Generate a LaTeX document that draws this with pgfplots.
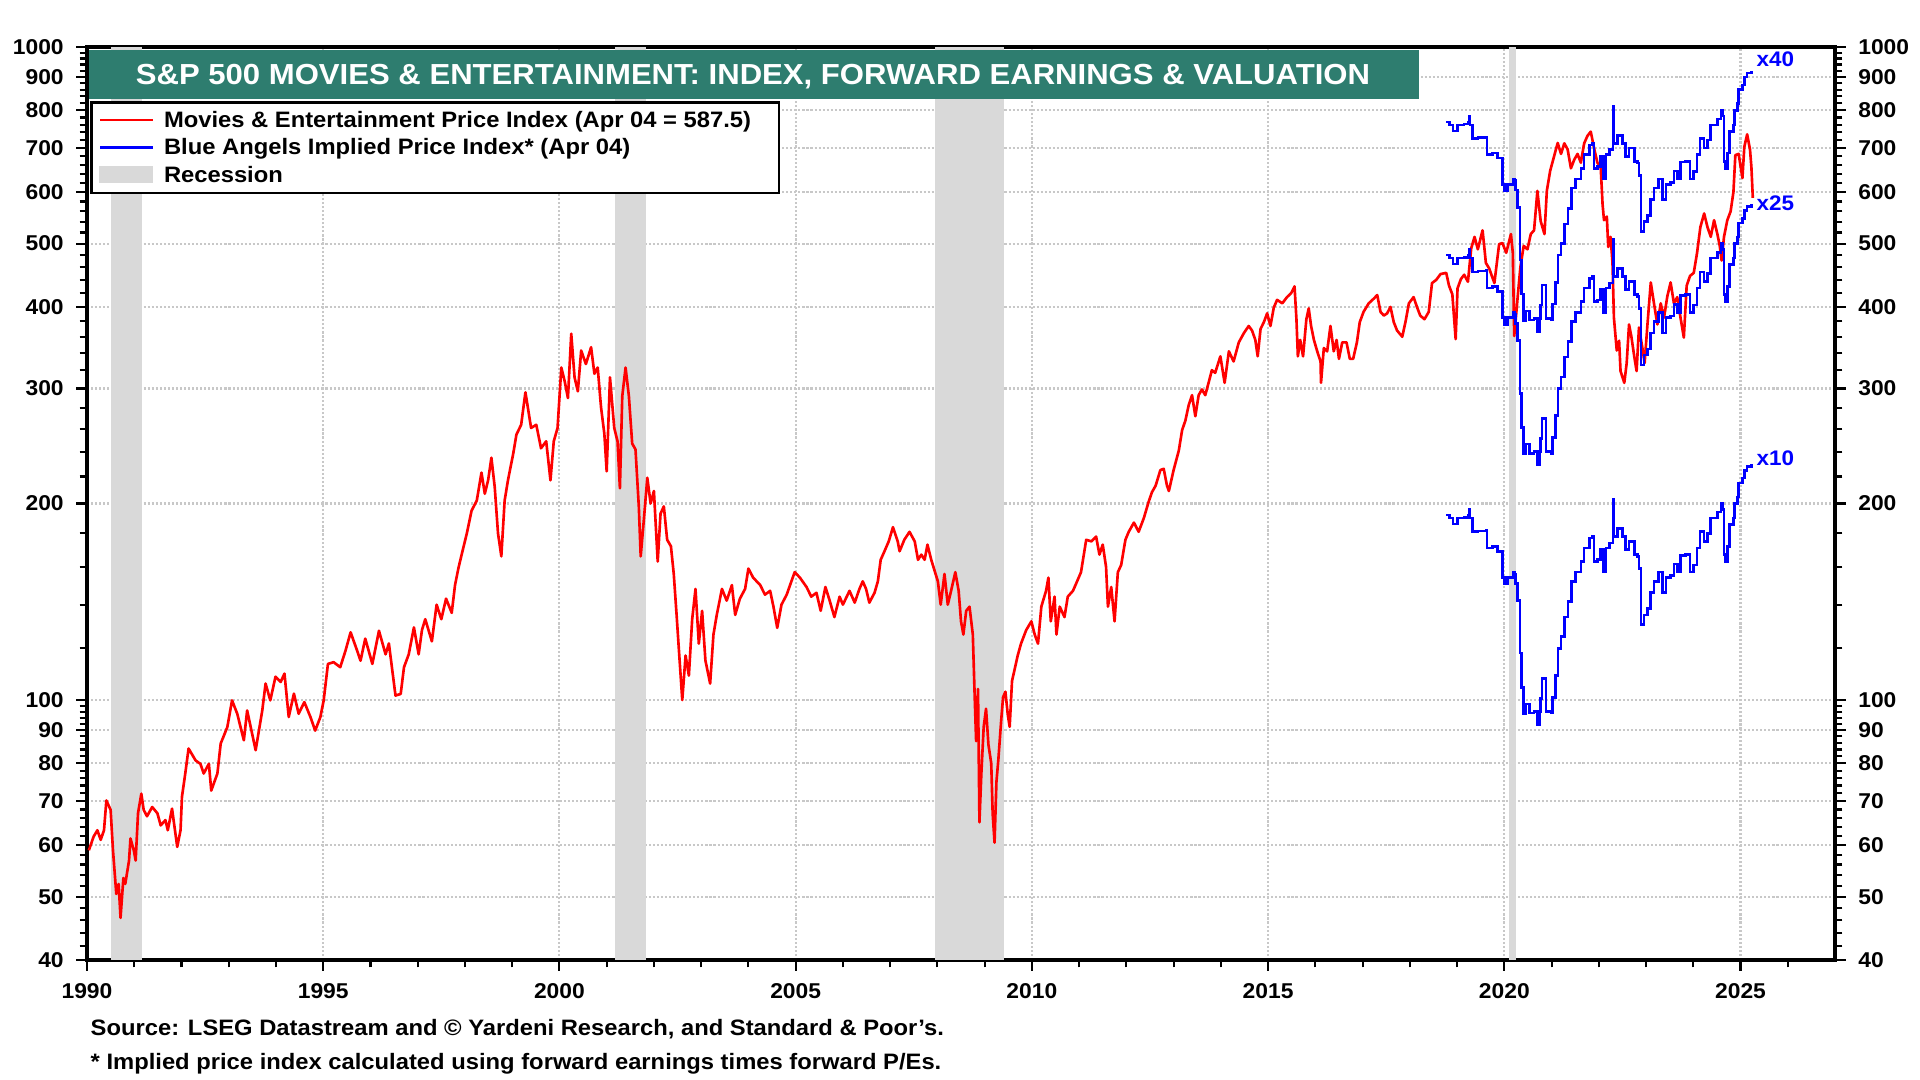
\documentclass[border=0pt]{standalone}
\usepackage{pgfplots}
\pgfplotsset{compat=1.18}
\usepackage{pgfplotstable}
\usepackage{graphicx}
\usepackage{fontspec}
\setmainfont{Liberation Sans}
\definecolor{teal1}{RGB}{46,125,111}
\definecolor{recgray}{RGB}{217,217,217}
\definecolor{gridgray}{RGB}{200,200,200}
\newcommand{\sx}[1]{\scalebox{1.065}[1]{#1}}

\pgfplotstableread{
yr v
1990.04 58.9
1990.14 61.8
1990.22 63.2
1990.29 61.1
1990.36 63.2
1990.41 70.2
1990.50 67.9
1990.55 58.9
1990.62 50.5
1990.67 52.3
1990.71 46.4
1990.77 53.4
1990.81 52.3
1990.89 56.8
1990.92 61.4
1990.99 58.9
1991.03 56.8
1991.08 67.1
1991.15 71.9
1991.20 67.9
1991.27 66.4
1991.38 68.6
1991.49 67.1
1991.56 64.3
1991.66 65.5
1991.71 63.2
1991.80 68.2
1991.91 59.6
1991.98 63.2
1992.01 71.1
1992.08 77.2
1992.15 84.3
1992.30 80.8
1992.40 79.9
1992.47 77.2
1992.58 79.9
1992.63 72.7
1992.76 77.2
1992.83 85.8
1992.97 90.9
1993.07 99.9
1993.18 95.3
1993.32 86.8
1993.39 96.4
1993.57 83.8
1993.71 96.4
1993.78 106.0
1993.88 99.9
1993.99 108.6
1994.10 106.6
1994.18 109.8
1994.27 94.2
1994.38 102.3
1994.48 95.3
1994.60 99.3
1994.73 94.2
1994.83 89.8
1994.94 94.2
1995.01 99.9
1995.10 113.6
1995.22 114.3
1995.36 112.3
1995.47 118.9
1995.58 127.0
1995.72 118.9
1995.79 114.9
1995.89 124.2
1996.04 113.6
1996.18 127.7
1996.32 117.5
1996.39 122.1
1996.53 101.6
1996.64 102.2
1996.71 112.3
1996.81 117.5
1996.92 129.2
1997.02 117.5
1997.09 128
1997.16 133
1997.30 123
1997.40 140
1997.50 133
1997.60 143
1997.72 136
1997.79 150
1997.86 159
1997.93 167
1998.04 180
1998.14 195
1998.25 202
1998.35 223
1998.42 207
1998.49 217
1998.56 235
1998.63 212
1998.70 180
1998.77 166
1998.84 202
1998.91 217
1999.02 238
1999.09 255
1999.19 264
1999.28 296
1999.33 281
1999.40 261
1999.51 264
1999.61 243
1999.72 249
1999.81 217
1999.88 249
1999.96 261
2000.04 323
2000.11 308
2000.18 290
2000.25 364
2000.32 312
2000.39 297
2000.46 343
2000.56 327
2000.67 347
2000.74 316
2000.81 323
2000.88 281
2000.95 256
2001.00 224
2001.07 312
2001.16 261
2001.23 249
2001.28 211
2001.33 292
2001.40 323
2001.47 292
2001.54 247
2001.61 242
2001.68 198
2001.72 166
2001.79 190
2001.86 219
2001.93 200
2002.00 209
2002.08 163
2002.14 193
2002.21 198
2002.28 176
2002.36 172
2002.42 156
2002.48 135
2002.53 119
2002.60 100
2002.67 117
2002.74 109
2002.81 133
2002.88 148
2002.95 122
2003.02 137
2003.09 115
2003.19 106
2003.26 126
2003.33 135
2003.44 148
2003.54 142
2003.65 150
2003.72 135
2003.82 143
2003.93 148
2004.00 159
2004.10 154
2004.25 150
2004.35 145
2004.46 147
2004.53 139
2004.61 129
2004.70 140
2004.81 145
2004.91 152
2004.98 157
2005.09 154
2005.23 149
2005.33 144
2005.44 146
2005.53 137
2005.63 149
2005.72 142
2005.82 134
2005.93 144
2006.00 140
2006.14 147
2006.25 141
2006.35 148
2006.42 152
2006.49 148
2006.56 141
2006.67 146
2006.74 152
2006.80 164
2006.88 169
2006.97 175
2007.06 184
2007.16 175
2007.20 169
2007.30 176
2007.41 181
2007.52 175
2007.59 164
2007.66 167
2007.73 164
2007.79 173
2007.87 164
2007.95 157
2008.01 152
2008.07 140
2008.15 156
2008.22 140
2008.29 147
2008.38 157
2008.45 147
2008.50 132
2008.55 126
2008.61 137
2008.68 139
2008.75 126
2008.79 101
2008.82 86.5
2008.86 104
2008.89 65
2008.93 77
2008.98 91
2009.03 97
2009.08 85.5
2009.14 80
2009.17 67
2009.21 60.5
2009.25 75
2009.29 81
2009.35 93
2009.39 101
2009.44 103
2009.49 95
2009.53 91
2009.58 107
2009.63 111
2009.70 117
2009.77 122
2009.88 128
2009.99 132
2010.06 126
2010.13 122
2010.20 139
2010.30 147
2010.35 154
2010.40 132
2010.48 144
2010.52 126
2010.59 139
2010.69 134
2010.76 144
2010.87 147
2010.94 151
2011.04 157
2011.15 176
2011.26 175
2011.36 178
2011.43 167
2011.50 173
2011.57 160
2011.61 139
2011.68 149
2011.75 132
2011.82 157
2011.89 161
2011.98 176
2012.05 181
2012.16 187
2012.26 181
2012.37 190
2012.47 201
2012.54 208
2012.62 213
2012.72 225
2012.79 226
2012.86 213
2012.90 209
2013.00 225
2013.11 241
2013.18 259
2013.25 268
2013.32 283
2013.39 293
2013.46 272
2013.53 293
2013.60 299
2013.67 293
2013.74 306
2013.81 320
2013.88 317
2013.99 336
2014.08 306
2014.17 342
2014.27 330
2014.38 353
2014.49 365
2014.59 374
2014.66 368
2014.73 356
2014.78 336
2014.84 370
2014.91 379
2014.98 391
2015.05 374
2015.12 399
2015.19 410
2015.30 405
2015.40 414
2015.49 420
2015.56 430
2015.60 383
2015.63 336
2015.68 356
2015.74 336
2015.81 383
2015.86 398
2015.91 374
2015.97 356
2016.04 342
2016.11 330
2016.12 306
2016.18 346
2016.25 342
2016.32 374
2016.39 342
2016.45 356
2016.50 333
2016.57 353
2016.66 353
2016.73 333
2016.80 333
2016.88 353
2016.94 379
2017.02 393
2017.13 405
2017.24 412
2017.31 417
2017.38 393
2017.45 388
2017.52 391
2017.59 400
2017.66 379
2017.73 368
2017.84 360
2017.91 380
2017.98 405
2018.08 414
2018.15 400
2018.22 388
2018.31 383
2018.40 393
2018.47 435
2018.56 440
2018.65 449
2018.77 451
2018.83 431
2018.90 418
2018.97 357
2019.01 427
2019.08 441
2019.15 448
2019.23 437
2019.30 492
2019.37 512
2019.44 490
2019.54 524
2019.61 467
2019.68 458
2019.79 435
2019.89 499
2019.96 501
2020.04 484
2020.14 517
2020.18 484
2020.21 361
2020.25 389
2020.28 412
2020.34 460
2020.41 496
2020.49 490
2020.56 517
2020.63 524
2020.70 602
2020.77 541
2020.85 517
2020.90 602
2020.97 646
2021.06 683
2021.13 713
2021.20 686
2021.27 712
2021.34 697
2021.41 652
2021.48 672
2021.55 686
2021.62 665
2021.69 712
2021.76 731
2021.83 742
2021.90 700
2021.97 665
2022.04 655
2022.08 574
2022.11 543
2022.17 550
2022.20 494
2022.25 512
2022.29 467
2022.32 385
2022.38 343
2022.43 355
2022.46 319
2022.54 306
2022.59 328
2022.64 376
2022.69 360
2022.75 336
2022.80 319
2022.85 372
2022.92 347
2022.97 328
2023.03 376
2023.10 436
2023.17 404
2023.24 376
2023.31 405
2023.38 385
2023.45 415
2023.52 436
2023.59 405
2023.66 414
2023.73 385
2023.80 359
2023.86 431
2023.93 446
2024.01 451
2024.08 484
2024.15 530
2024.23 556
2024.30 530
2024.37 512
2024.44 543
2024.51 517
2024.56 496
2024.60 471
2024.65 512
2024.72 543
2024.79 560
2024.85 600
2024.89 683
2024.96 686
2025.04 630
2025.08 703
2025.14 735
2025.20 697
2025.23 655
2025.26 587.5
}\redT

\pgfplotstableread{
yr v
2018.77 192
2018.84 190
2018.91 186
2019.01 190
2019.15 190.5
2019.23 192
2019.25 196
2019.27 190
2019.33 181
2019.44 181.5
2019.61 182
2019.63 171
2019.75 172
2019.86 169
2019.95 169
2019.96 154
2020.00 150.5
2020.07 154
2020.18 157
2020.21 156
2020.23 151
2020.28 142
2020.33 118
2020.37 104.6
2020.41 95.2
2020.46 98.6
2020.53 95.5
2020.63 96
2020.69 91.7
2020.74 96
2020.77 100.6
2020.80 108
2020.86 108
2020.88 96
2020.99 95.5
2021.02 101
2021.09 109
2021.14 120
2021.20 125
2021.28 134
2021.35 141.6
2021.42 152
2021.51 157
2021.62 163
2021.69 171
2021.80 177
2021.87 178
2021.90 163
2021.97 164
2022.04 170
2022.10 157
2022.15 171
2022.22 174
2022.28 174
2022.30 203
2022.32 178
2022.39 183
2022.50 178
2022.57 170
2022.64 175
2022.75 167
2022.82 166
2022.85 159
2022.89 130.4
2022.96 135
2023.03 138
2023.10 146
2023.17 152
2023.27 157
2023.35 146
2023.42 154
2023.52 155
2023.59 161.5
2023.66 157
2023.73 166.6
2023.84 167
2023.93 157
2024.01 161
2024.08 171
2024.14 181
2024.23 175
2024.30 180
2024.37 190
2024.44 190
2024.51 194
2024.59 200
2024.63 196
2024.65 167
2024.68 163
2024.72 172
2024.77 185.6
2024.85 190
2024.87 200
2024.93 204.6
2024.96 215
2025.04 218.7
2025.08 224.8
2025.14 228
2025.23 230
}\blueT

\begin{document}
\begin{tikzpicture}[x=1cm,y=1cm]
\path[use as bounding box] (0,0) rectangle (19.2,10.8);
\begin{axis}[
  at={(0.87cm,1.20cm)}, anchor=south west, scale only axis,
  width=17.48cm, height=9.13cm,
  xmin=1990, xmax=2027, ymode=log, ymin=40, ymax=1000,
  tick align=outside,
  major tick length=3.1pt, minor tick length=2.1pt,
  tick label style={font=\fontsize{6.1pt}{7pt}\selectfont\bfseries},
  ytick={40,50,60,70,80,90,100,200,300,400,500,600,700,800,900,1000},
  yticklabels={\sx{40},\sx{50},\sx{60},\sx{70},\sx{80},\sx{90},\sx{100},\sx{200},\sx{300},\sx{400},\sx{500},\sx{600},\sx{700},\sx{800},\sx{900},\sx{1000}},
  axis line style={line width=1.1pt},
  tick style={black, line width=0.6pt},
  xtick pos=left, ytick pos=both, yticklabel pos=left,
  xtick={1990,1995,2000,2005,2010,2015,2020,2025},
  xticklabels={\sx{1990},\sx{1995},\sx{2000},\sx{2005},\sx{2010},\sx{2015},\sx{2020},\sx{2025}},
  minor xtick={1991,1992,1993,1994,1996,1997,1998,1999,2001,2002,2003,2004,2006,2007,2008,2009,2011,2012,2013,2014,2016,2017,2018,2019,2021,2022,2023,2024,2026},
  minor ytick={42,44,46,48,52,54,56,58,62,64,66,68,72,74,76,78,82,84,86,88,92,94,96,98,120,140,160,180,220,240,260,280,320,340,360,380,420,440,460,480,520,540,560,580,620,640,660,680,720,740,760,780,820,840,860,880,920,940,960,980},
  grid=major,
  major grid style={gridgray, line width=0.6pt, dash pattern=on 0.6pt off 0.55pt},
]
\addplot[draw=none, fill=recgray, forget plot] coordinates {(1990.50,40) (1990.50,1000) (1991.17,1000) (1991.17,40)} -- cycle;
\addplot[draw=none, fill=recgray, forget plot] coordinates {(2001.17,40) (2001.17,1000) (2001.83,1000) (2001.83,40)} -- cycle;
\addplot[draw=none, fill=recgray, forget plot] coordinates {(2007.94,40) (2007.94,1000) (2009.42,1000) (2009.42,40)} -- cycle;
\addplot[draw=none, fill=recgray, forget plot] coordinates {(2020.09,40) (2020.09,1000) (2020.25,1000) (2020.25,40)} -- cycle;
\addplot[red, line width=0.75pt, line join=round] table[x=yr, y=v] {\redT};
\addplot[blue, line width=0.75pt, const plot] table[x=yr, y expr=\thisrow{v}*4] {\blueT};
\addplot[blue, line width=0.75pt, const plot] table[x=yr, y expr=\thisrow{v}*2.5] {\blueT};
\addplot[blue, line width=0.75pt, const plot] table[x=yr, y=v] {\blueT};
\end{axis}
\begin{axis}[
  at={(0.87cm,1.20cm)}, anchor=south west, scale only axis,
  width=17.48cm, height=9.13cm,
  xmin=1990, xmax=2027, ymode=log, ymin=40, ymax=1000,
  tick align=outside,
  major tick length=3.1pt,
  tick label style={font=\fontsize{6.1pt}{7pt}\selectfont\bfseries},
  ytick={40,50,60,70,80,90,100,200,300,400,500,600,700,800,900,1000},
  yticklabels={\sx{40},\sx{50},\sx{60},\sx{70},\sx{80},\sx{90},\sx{100},\sx{200},\sx{300},\sx{400},\sx{500},\sx{600},\sx{700},\sx{800},\sx{900},\sx{1000}},
  xtick=\empty, minor ytick={},
  axis line style={draw=none},
  tick style={draw=none},
  ytick pos=right, yticklabel pos=right,
]
\end{axis}
% title
\fill[teal1] (0.893,9.807) rectangle (14.19,10.30);
\node[anchor=base, text=white, font=\fontsize{8.25pt}{9pt}\selectfont\bfseries, inner sep=0pt] at (7.53,9.95) {\scalebox{1.072}[1]{S\&P 500 MOVIES \& ENTERTAINMENT: INDEX, FORWARD EARNINGS \& VALUATION}};
% legend
\draw[line width=0.7pt, fill=white] (0.917,8.87) rectangle (7.79,9.773);
\draw[red, line width=0.75pt] (1.00,9.60) -- (1.53,9.60);
\draw[blue, line width=0.75pt] (1.00,9.327) -- (1.53,9.327);
\fill[recgray] (0.993,8.967) rectangle (1.53,9.14);
\begin{scope}[every node/.style={anchor=base west, inner sep=0pt, font=\fontsize{6.35pt}{7pt}\selectfont\bfseries}]
\node at (1.633,9.523) {\sx{Movies \& Entertainment Price Index (Apr 04 = 587.5)}};
\node at (1.633,9.25) {\sx{Blue Angels Implied Price Index* (Apr 04)}};
\node at (1.633,8.977) {\sx{Recession}};
\end{scope}
% multipliers
\begin{scope}[every node/.style={anchor=base west, inner sep=0pt, text=blue, font=\fontsize{6.0pt}{7pt}\selectfont\bfseries}]
\node at (17.56,10.13) {\sx{x40}};
\node at (17.56,8.69) {\sx{x25}};
\node at (17.56,6.14) {\sx{x10}};
\end{scope}
% source
\begin{scope}[every node/.style={anchor=base west, inner sep=0pt, font=\fontsize{6.35pt}{7pt}\selectfont\bfseries}]
\node at (0.90,0.445) {\sx{Source: LSEG Datastream and © Yardeni Research, and Standard \& Poor's.}};
\node at (0.90,0.105) {\sx{* Implied price index calculated using forward earnings times forward P/Es.}};
\end{scope}
\end{tikzpicture}
\end{document}
